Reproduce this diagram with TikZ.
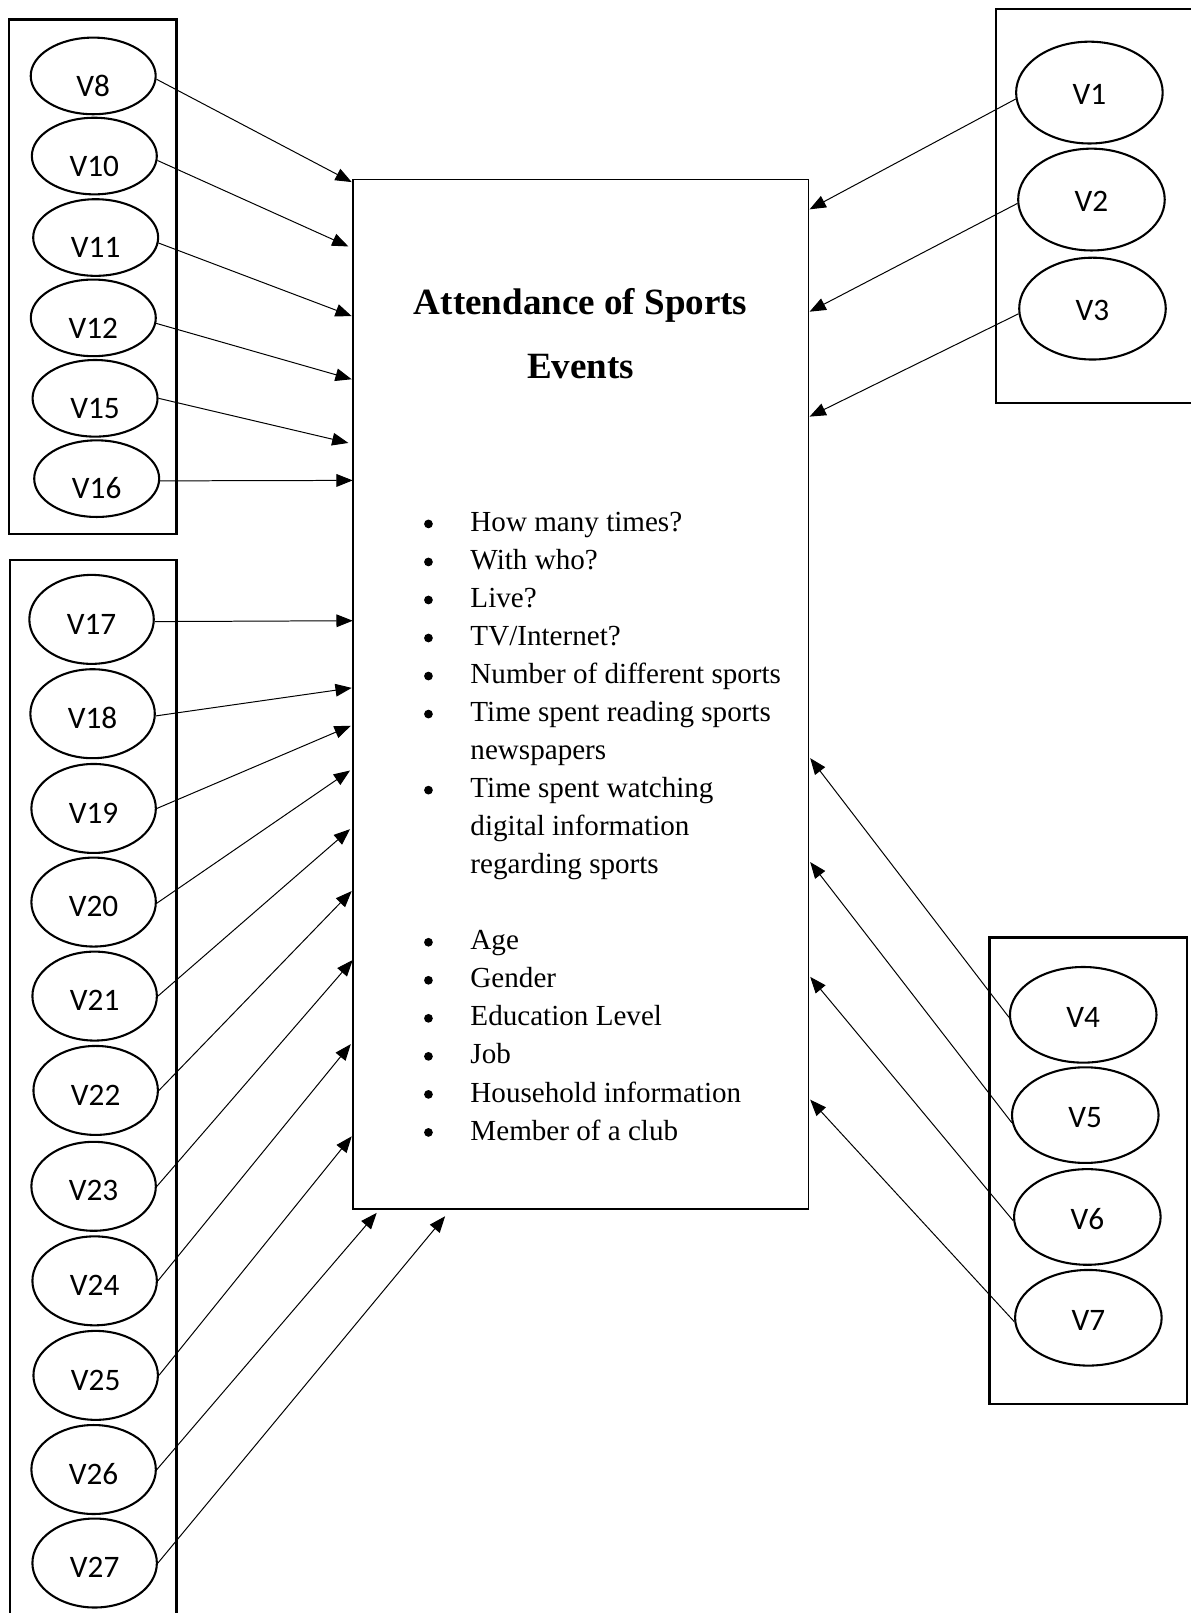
\documentclass[tikz,border=0pt]{standalone}
\usepackage{fontspec}
\setmainfont{Liberation Serif}
\newfontfamily\vfont{Carlito}
\usetikzlibrary{arrows.meta,shapes.geometric}
\begin{document}
\begin{tikzpicture}[x=0.02cm,y=-0.02cm,
  vl/.style={ellipse, draw, line width=1.15pt, inner sep=0pt,
    font=\vfont\fontsize{17.3}{20}\selectfont, text depth=0pt},
  vlt/.style={vl, minimum width=2.43cm, minimum height=1.49cm, text height=22.4pt},
  vlb/.style={vl, minimum width=2.42cm, minimum height=1.73cm, text height=16.2pt},
  vrt/.style={vl, minimum width=2.85cm, minimum height=1.98cm, text height=12.8pt},
  vrb/.style={vl, minimum width=2.85cm, minimum height=1.86cm, text height=13.6pt},
  groupbox/.style={draw, line width=1.4pt, inner sep=0pt},
  mainbox/.style={draw, line width=0.95pt, inner sep=0pt},
  conn/.style={line width=0.55pt, -{Triangle[length=9pt,width=7pt]}},
  item/.style={font=\fontsize{16.1}{20}\selectfont, inner sep=0pt, anchor=base west},
  bul/.style={circle, fill=black, inner sep=0pt, minimum size=0.17cm},
  ttl/.style={font=\bfseries\fontsize{20.5}{24}\selectfont, inner sep=0pt, anchor=base},
]
\useasboundingbox (0,0) rectangle (1157,1568);

% group boxes
\node[groupbox, minimum width=3.26cm, minimum height=10.0cm] (glt) at (90.3,269.1) {};
\node[groupbox, minimum width=3.242cm, minimum height=20.816cm] (glb) at (90.75,1064.6) {};
\node[groupbox, minimum width=4.04cm, minimum height=7.666cm] (grt) at (1069,200.35) {};
\node[groupbox, minimum width=3.836cm, minimum height=9.072cm] (grb) at (1057.9,1138.2) {};

% main box
\node[mainbox, minimum width=8.86cm, minimum height=20.02cm] (main) at (564.5,674.8) {};
\node[ttl] (t1) at (564.5,305.3) {Attendance of Sports};
\node[ttl] (t2) at (564.5,367.9) {Events};

\foreach \i/\t in {0/How many times?, 1/With who?, 2/Live?, 3/TV\slash Internet?,
  4/Number of different sports, 5/Time spent reading sports, 6/newspapers,
  7/Time spent watching, 8/digital information, 9/regarding sports,
  11/Age, 12/Gender, 13/Education Level, 14/Job, 15/Household information,
  16/Member of a club}
  \node[item] (it\i) at (457,{516.7+36.97*\i}) {\t};
\foreach \i in {0,1,2,3,4,5,7,11,12,13,14,15,16}
  \node[bul] (bu\i) at (416.5,{509.3+36.97*\i}) {};

% left-top ellipses
\node[vlt] (v8)  at (90.6,73.8) {V8};
\node[vlt] (v10) at (91.7,151.7) {V10};
\node[vlt] (v11) at (93,230.9) {V11};
\node[vlt] (v12) at (90.7,309) {V12};
\node[vlt] (v15) at (92.4,387.2) {V15};
\node[vlt] (v16) at (94,465.3) {V16};

% left-bottom ellipses
\node[vlb] (v17) at (89,602.1) {V17};
\node[vlb] (v18) at (90,693.8) {V18};
\node[vlb] (v19) at (91,785.9) {V19};
\node[vlb] (v20) at (91,876.9) {V20};
\node[vlb] (v21) at (92,968.3) {V21};
\node[vlb] (v22) at (93,1060) {V22};
\node[vlb] (v23) at (91,1153.2) {V23};
\node[vlb] (v24) at (92,1245.1) {V24};
\node[vlb] (v25) at (93,1337) {V25};
\node[vlb] (v26) at (91,1428.5) {V26};
\node[vlb] (v27) at (92,1519.4) {V27};

% right-top ellipses
\node[vrt] (v1) at (1059,90) {V1};
\node[vrt] (v2) at (1061,194) {V2};
\node[vrt] (v3) at (1062,300) {V3};

% right-bottom ellipses
\node[vrb] (v4) at (1053,986.5) {V4};
\node[vrb] (v5) at (1055,1084) {V5};
\node[vrb] (v6) at (1057,1183) {V6};
\node[vrb] (v7) at (1058,1281) {V7};

% arrow end points on the main box
\coordinate (a8)  at (341.9,177);
\coordinate (a10) at (338.7,239.6);
\coordinate (a11) at (341.9,307.3);
\coordinate (a12) at (341.9,368.7);
\coordinate (a15) at (338.7,430.6);
\coordinate (a16) at (342.9,467);
\coordinate (a17) at (342.9,603.4);
\coordinate (a18) at (341.9,668.7);
\coordinate (a19) at (341,705.5);
\coordinate (a20) at (340.3,749);
\coordinate (a21) at (340.3,806);
\coordinate (a22) at (341.9,866.2);
\coordinate (a23) at (342.9,933.2);
\coordinate (a24) at (341,1015);
\coordinate (a25) at (341.9,1104.6);
\coordinate (a26) at (366.2,1179);
\coordinate (a27) at (432.7,1182.3);
\coordinate (r1) at (787,203.5);
\coordinate (r2) at (787,303);
\coordinate (r3) at (787,405);
\coordinate (r4) at (787.6,737);
\coordinate (r5) at (787.6,838);
\coordinate (r6) at (787.6,949.6);
\coordinate (r7) at (787.6,1069);

% connectors
\draw[conn] (v8.-3)  -- (a8);
\draw[conn] (v10.-4) -- (a10);
\draw[conn] (v11.-5) -- (a11);
\draw[conn] (v12.-5) -- (a12);
\draw[conn] (v15.east) -- (a15);
\draw[conn] (v16.-2) -- (a16);
\draw[conn] (v17.-2) -- (a17);
\draw[conn] (v18.-2) -- (a18);
\draw[conn] (v19.east) -- (a19);
\draw[conn] (v20.-1) -- (a20);
\draw[conn] (v21.east) -- (a21);
\draw[conn] (v22.east) -- (a22);
\draw[conn] (v23.east) -- (a23);
\draw[conn] (v24.east) -- (a24);
\draw[conn] (v25.east) -- (a25);
\draw[conn] (v26.east) -- (a26);
\draw[conn] (v27.east) -- (a27);
\draw[conn] (v1.185) -- (r1);
\draw[conn] (v2.183) -- (r2);
\draw[conn] (v3.184) -- (r3);
\draw[conn] (v4.182) -- (r4);
\draw[conn] (v5.186) -- (r5);
\draw[conn] (v6.183) -- (r6);
\draw[conn] (v7.183) -- (r7);
\end{tikzpicture}
\end{document}
